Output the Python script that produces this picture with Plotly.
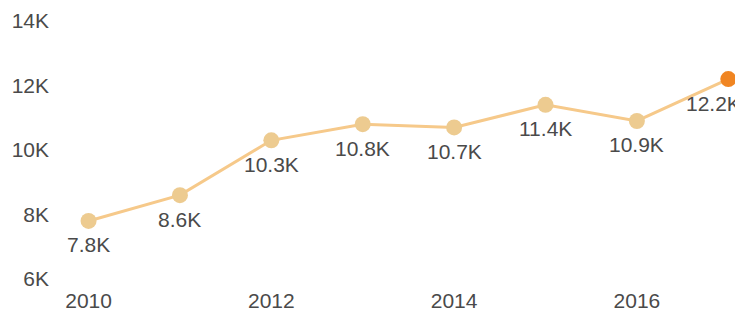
import plotly.graph_objects as go

years = [2010, 2011, 2012, 2013, 2014, 2015, 2016, 2017]
values = [7800, 8600, 10300, 10800, 10700, 11400, 10900, 12200]
labels = ["7.8K", "8.6K", "10.3K", "10.8K", "10.7K", "11.4K", "10.9K", "12.2K"]
y_ticks = [6000, 8000, 10000, 12000, 14000]
y_tick_text = ["6K", "8K", "10K", "12K", "14K"]
x_ticks = [2010, 2012, 2014, 2016]

marker_colors = ["#edcb90"] * (len(values) - 1) + ["#f08522"]
label_xshift = [0, 0, 0, 0, 0, 0, 0, -15]

FONT = "Liberation Sans, Arial, sans-serif"
TXT = "#4a4a4a"

fig = go.Figure()
fig.add_trace(go.Scatter(
    x=years, y=values, mode="lines+markers",
    line=dict(color="#f6c98a", width=3),
    marker=dict(size=16, color=marker_colors, line=dict(width=0)),
    cliponaxis=False, hoverinfo="skip", showlegend=False,
))

for x, y, t, xs in zip(years, values, labels, label_xshift):
    fig.add_annotation(x=x, y=y, text=t, showarrow=False, xshift=xs, yshift=-24,
                       font=dict(family=FONT, size=21, color=TXT))

# page body has an 8px margin, so the figure is sized to fit the 743x315 window
fig.update_layout(
    width=735, height=307,
    margin=dict(l=44, r=1, t=13, b=36),
    paper_bgcolor="white", plot_bgcolor="white",
    font=dict(family=FONT, size=21, color=TXT),
    xaxis=dict(range=[2009.6, 2017.15], tickvals=x_ticks, showgrid=False,
               zeroline=False, showline=False, automargin=False,
               ticks="outside", ticklen=3, tickcolor="rgba(0,0,0,0)",
               tickfont=dict(size=21, color=TXT)),
    yaxis=dict(range=[6000, 14000], tickvals=y_ticks, ticktext=y_tick_text,
               showgrid=False, zeroline=False, showline=False, automargin=False,
               ticklabelstandoff=2, tickfont=dict(size=21, color=TXT)),
)

fig.write_html("out.html")
